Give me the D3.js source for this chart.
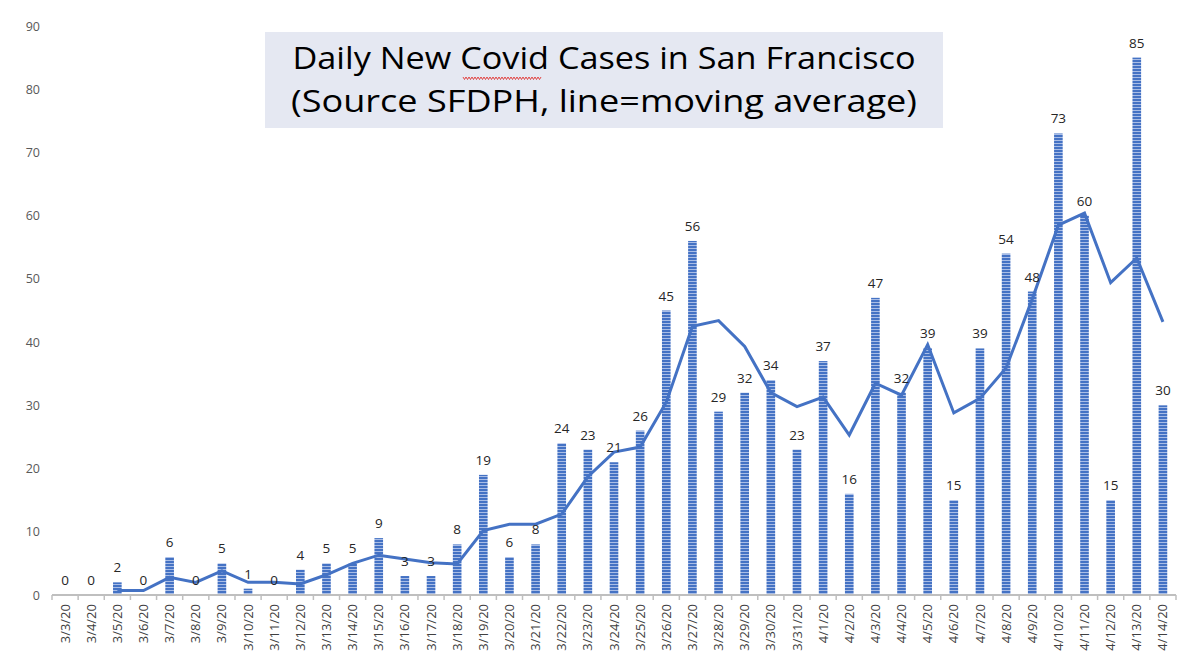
<!DOCTYPE html>
<html>
<head>
<meta charset="utf-8">
<script src="https://cdn.jsdelivr.net/npm/d3@7/dist/d3.min.js"></script>
<style>
  html, body { margin: 0; padding: 0; background: #fff; }
  svg { display: block; }
</style>
</head>
<body>
<svg id="chart" width="1200" height="669"></svg>
<script>
const dates = ["3/3/20","3/4/20","3/5/20","3/6/20","3/7/20","3/8/20","3/9/20","3/10/20","3/11/20","3/12/20",
  "3/13/20","3/14/20","3/15/20","3/16/20","3/17/20","3/18/20","3/19/20","3/20/20","3/21/20","3/22/20",
  "3/23/20","3/24/20","3/25/20","3/26/20","3/27/20","3/28/20","3/29/20","3/30/20","3/31/20","4/1/20",
  "4/2/20","4/3/20","4/4/20","4/5/20","4/6/20","4/7/20","4/8/20","4/9/20","4/10/20","4/11/20",
  "4/12/20","4/13/20","4/14/20"];
const cases = [0,0,2,0,6,0,5,1,0,4,5,5,9,3,3,8,19,6,8,24,23,21,26,45,56,29,32,34,23,37,16,47,32,39,15,39,54,48,73,60,15,85,30];
// moving average (starts at 3/5)
const movingAvg = [null,null,0.7,0.7,2.8,2.0,3.8,2.0,2.0,1.75,3.2,5.0,6.3,5.7,5.1,4.9,10.2,11.2,11.2,12.8,
  18.7,22.6,23.4,30.5,42.5,43.4,39.3,32.0,29.8,31.3,25.3,33.5,31.6,39.6,28.8,31.1,35.9,46.8,58.5,60.4,49.4,53.3,43.2];
const yTicks = [0,10,20,30,40,50,60,70,80,90];
const titleLines = ["Daily New Covid Cases in San Francisco", "(Source SFDPH, line=moving average)"];

const svg = d3.select("#chart");
const pLeft = 52, pRight = 1176, pTop = 26, pBottom = 595;

const x = d3.scaleBand().domain(dates).range([pLeft, pRight]).paddingInner(0.67).paddingOuter(0.335);
const xb = d3.scaleBand().domain(dates).range([pLeft, pRight]);
const y = d3.scaleLinear().domain([0, 90]).range([pBottom, pTop]);

// stripe pattern
const defs = svg.append("defs");
const pat = defs.append("pattern").attr("id", "stripes").attr("patternUnits", "userSpaceOnUse")
  .attr("width", 10).attr("height", 3);
pat.append("rect").attr("width", 10).attr("height", 3).attr("fill", "#a9bde6");
pat.append("rect").attr("width", 10).attr("height", 2).attr("fill", "#4472c4");

// y axis labels
const yAxis = d3.axisLeft(y).tickValues(yTicks).tickSize(0).tickPadding(0);
const gy = svg.append("g").attr("transform", `translate(40,0)`).call(yAxis);
gy.select(".domain").remove();
gy.selectAll("text").attr("font-family", "Open Sans, sans-serif").attr("font-size", 12.5).attr("fill", "#595959");

// bars
svg.append("g").selectAll("rect").data(cases).join("rect")
  .attr("x", (d, i) => x(dates[i]))
  .attr("width", x.bandwidth())
  .attr("y", d => y(d))
  .attr("height", d => pBottom - y(d))
  .attr("fill", "url(#stripes)");

// x axis
const xAxis = d3.axisBottom(xb).tickSize(0).tickPadding(0);
const gx = svg.append("g").attr("transform", `translate(0,${pBottom})`).call(xAxis);
gx.select(".domain").attr("stroke", "#bfbfbf").attr("stroke-width", 2).attr("d", `M${pLeft},0H${pRight}`);
gx.selectAll("text")
  .attr("font-family", "Open Sans, sans-serif").attr("font-size", 13).attr("fill", "#404040")
  .attr("text-anchor", "end").attr("dy", "0.35em")
  .attr("transform", "translate(0,9) rotate(-90)");
// boundary ticks
const bounds = dates.map(d => xb(d)).concat([pRight]);
svg.append("g").selectAll("line").data(bounds).join("line")
  .attr("x1", d => d).attr("x2", d => d)
  .attr("y1", pBottom).attr("y2", pBottom + 5)
  .attr("stroke", "#bfbfbf").attr("stroke-width", 1.5);

// moving average line
const lineGen = d3.line()
  .defined(d => d != null)
  .x((d, i) => xb(dates[i]) + xb.bandwidth() / 2)
  .y(d => y(d));
svg.append("path").datum(movingAvg)
  .attr("d", lineGen)
  .attr("fill", "none").attr("stroke", "#4472c4").attr("stroke-width", 3)
  .attr("stroke-linejoin", "miter");

// value labels
svg.append("g").selectAll("text").data(cases).join("text")
  .attr("x", (d, i) => xb(dates[i]) + xb.bandwidth() / 2)
  .attr("y", d => y(d) - 10)
  .attr("text-anchor", "middle")
  .attr("font-family", "Open Sans, sans-serif").attr("font-size", 13.5).attr("fill", "#262626")
  .text(d => d);

// title box
svg.append("rect").attr("x", 265).attr("y", 32).attr("width", 678).attr("height", 96).attr("fill", "#e5e8f2");
const tt = svg.append("g");
tt.selectAll("text").data(titleLines).join("text")
  .attr("x", 604).attr("y", (d, i) => 69 + i * 43)
  .attr("text-anchor", "middle")
  .attr("font-family", "Open Sans, sans-serif").attr("font-size", 31).attr("fill", "#000")
  .attr("textLength", (d, i) => i === 0 ? 623 : 626).attr("lengthAdjust", "spacingAndGlyphs")
  .text(d => d);
// red spelling squiggle under "Covid"
let sq = "M463,77";
for (let xx = 463; xx < 540; xx += 3) sq += ` L${xx + 1.5},79.5 L${xx + 3},77`;
svg.append("path").attr("d", sq).attr("fill", "none").attr("stroke", "#e0201c").attr("stroke-width", 0.8);
</script>
</body>
</html>
